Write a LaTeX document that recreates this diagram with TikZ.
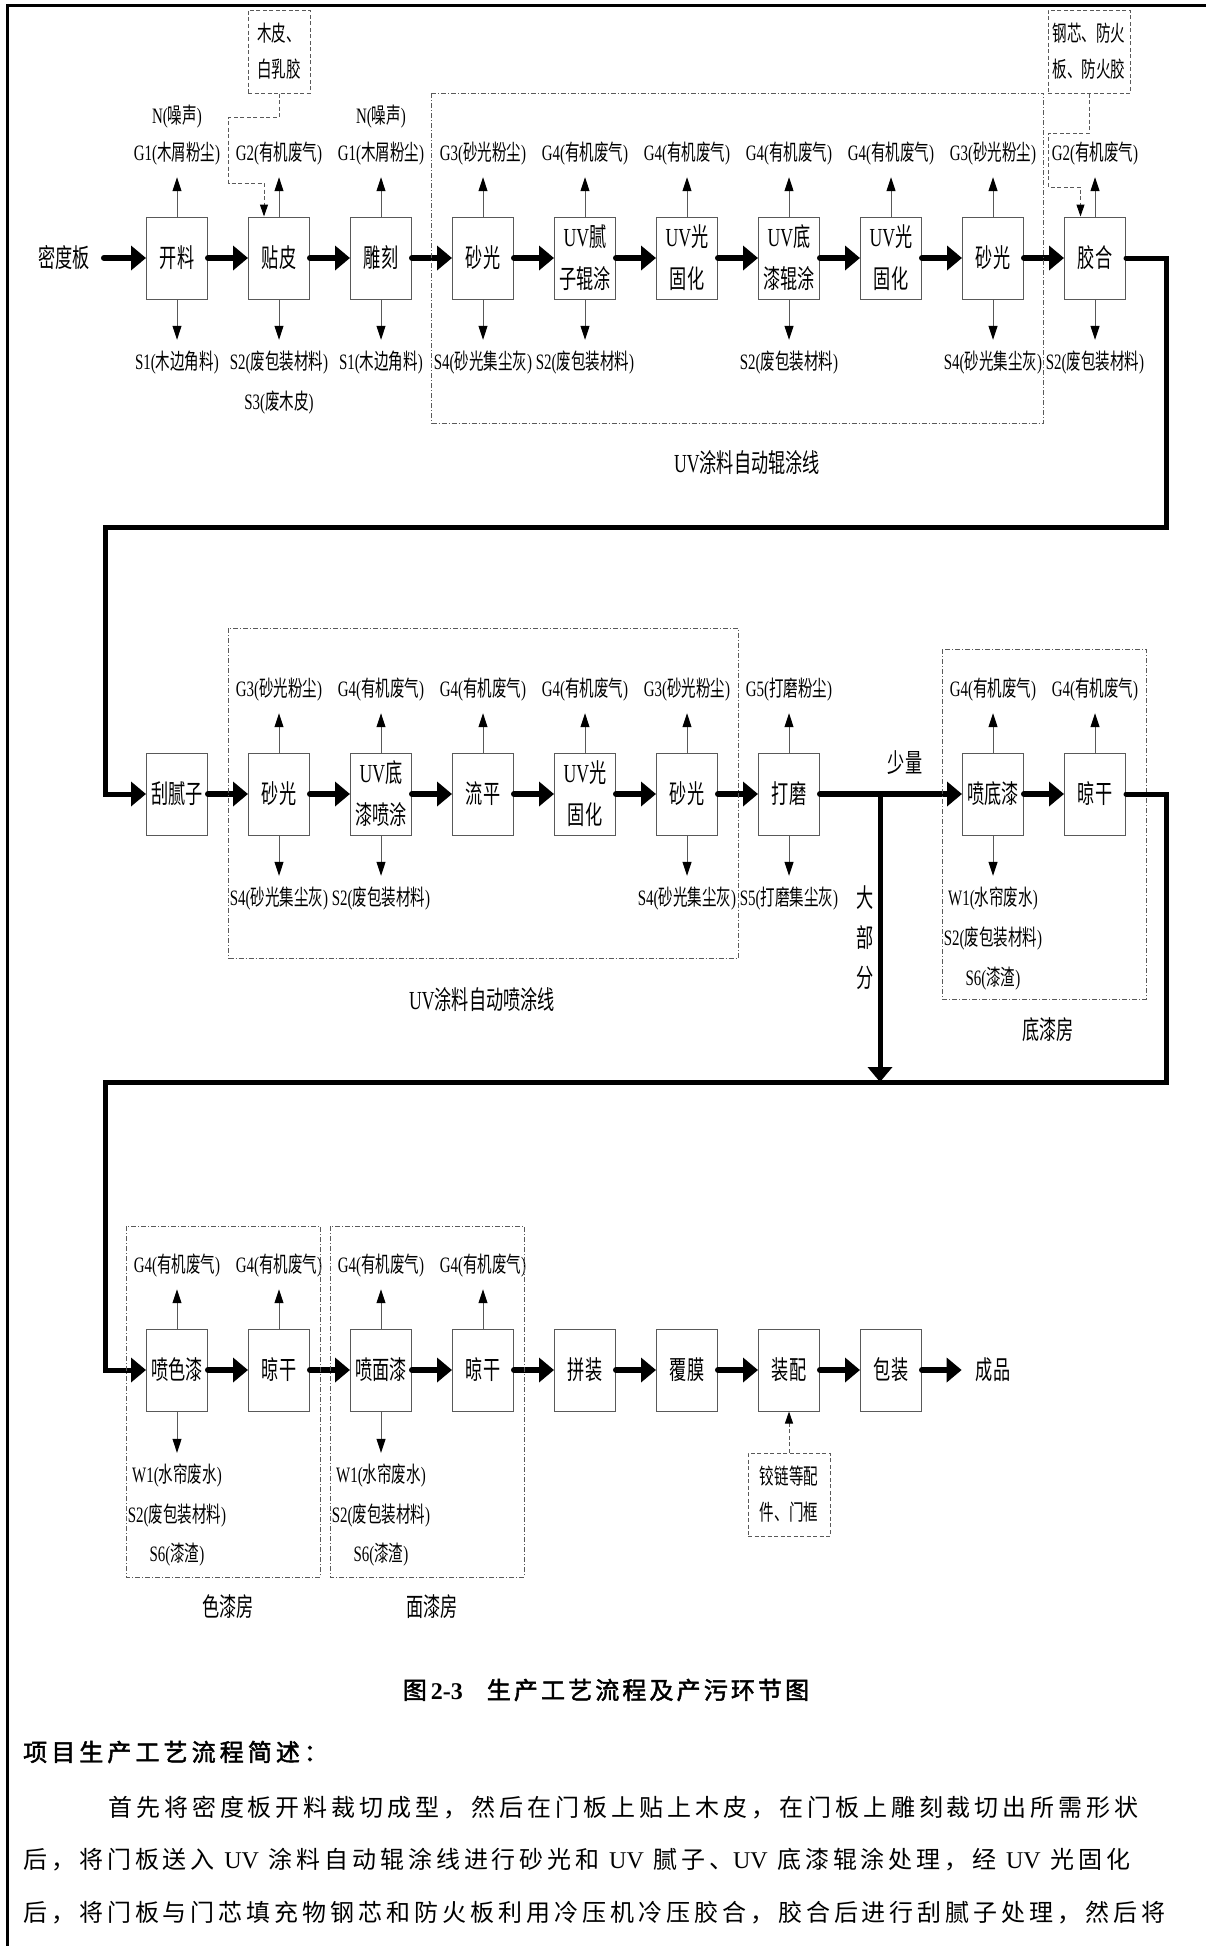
\documentclass[tikz,border=0pt]{standalone}
\usepackage{fontspec}
\usepackage{tikz}
\usetikzlibrary{arrows.meta,
                calc,
                positioning}

\newfontfamily\cjk[FakeStretch=0.66]{Noto Sans CJK SC}
\newfontfamily\lat[FakeStretch=0.68]{Liberation Serif}
\newfontfamily\bodyf[LetterSpace=16.5]{Noto Sans CJK SC}
\newfontfamily\capbf[LetterSpace=13,FakeBold=2]{Noto Sans CJK SC}
\newfontfamily\headbf[LetterSpace=17,FakeBold=2]{Noto Sans CJK SC}
\newfontfamily\bodylat{Liberation Serif}

\newcommand\pol[2]{{\lat #1(}#2{\lat )}}
\newcommand\uv{{\lat UV}}

\tikzset{
  proc/.style={draw=gray!70!black, line width=1pt, minimum width=61pt,
               minimum height=82pt, inner sep=0pt, align=center,
               font=\cjk\fontsize{26}{42}\selectfont},
  emis/.style={font=\cjk\fontsize{22}{26}\selectfont, text height=16.5pt,
               text depth=4.5pt, inner xsep=1pt, inner ysep=12.5pt},
  note/.style={font=\cjk\fontsize{26}{40}\selectfont, align=center, inner sep=2pt},
  stuff/.style={draw=gray!70!black, line width=1pt, dash pattern=on 4pt off 2.5pt,
                minimum width=62pt, minimum height=83pt, inner sep=0pt, align=center,
                font=\cjk\fontsize{22}{36}\selectfont},
  flow/.style={line width=6pt, line cap=round, -{Triangle[length=15pt,width=24pt]}},
  gas/.style={draw=gray!70!black, line width=1pt, -{Triangle[length=14pt,width=9pt,color=black]}},
  feed/.style={draw=gray!70!black, line width=1pt, dash pattern=on 4pt off 2.5pt,
               -{Triangle[length=12pt,width=8pt,color=black]}},
  zone/.style={draw=gray!70!black, line width=1pt, dash pattern=on 5pt off 2pt on 1pt off 2pt},
  body/.style={anchor=west, inner sep=0pt, font=\bodyf\fontsize{24}{28}\selectfont}
}

\begin{document}
\begin{tikzpicture}[x=1pt,y=-1pt]
\useasboundingbox (0,0) rectangle (1206,1946);
\fill[white] (0,0) rectangle (1206,1946);
\draw[line width=3pt] (7,1946) -- (7,5) -- (1206,5);

% row 1
\node[note,inner xsep=14pt] (mdf) at (64,258) {密度板};
\foreach \i/\x/\txt in {1/177/开料, 2/279/贴皮, 3/381/雕刻, 4/483/砂光,
    5/585/{\uv 腻\\子辊涂}, 6/687/{\uv 光\\固化}, 7/789/{\uv 底\\漆辊涂},
    8/891/{\uv 光\\固化}, 9/993/砂光, 10/1095/胶合}
  \node[proc] (a\i) at (\x,258) {\txt};
\draw[flow] (mdf) -- (a1);
\foreach \i [evaluate=\i as \j using int(\i+1)] in {1,...,9}
  \draw[flow] (a\i) -- (a\j);

\foreach \i/\g/\txt in {1/G1/木屑粉尘, 2/G2/有机废气, 3/G1/木屑粉尘, 4/G3/砂光粉尘,
    5/G4/有机废气, 6/G4/有机废气, 7/G4/有机废气, 8/G4/有机废气, 9/G3/砂光粉尘, 10/G2/有机废气}
{
  \node[emis] (ga\i) at ($(a\i)+(0,-104)$) {\pol{\g}{\txt}};
  \draw[gas] (a\i) -- (ga\i);
}
\foreach \i/\s/\txt in {1/S1/木边角料, 2/S2/废包装材料, 3/S1/木边角料, 4/S4/砂光集尘灰,
    5/S2/废包装材料, 7/S2/废包装材料, 9/S4/砂光集尘灰, 10/S2/废包装材料}
{
  \node[emis] (sa\i) at ($(a\i)+(0,105)$) {\pol{\s}{\txt}};
  \draw[gas] (a\i) -- (sa\i);
}
\node[emis] (na1) at ($(a1)+(0,-141)$) {\pol{N}{噪声}};
\node[emis] (na3) at ($(a3)+(0,-141)$) {\pol{N}{噪声}};
\node[emis] (sb2) at ($(a2)+(0,145)$) {\pol{S3}{废木皮}};

\node[stuff] (veneer) at (279,51.5) {木皮、\\白乳胶};
\coordinate (v1) at (228.5,117);
\coordinate (v2) at (264,183);
\draw[feed] (veneer) |- (v1) |- (v2) -- (a2.north -| v2);

\node[stuff,minimum width=82pt] (core) at (1089,51.5) {钢芯、防火\\板、防火胶};
\coordinate (k1) at (1048.4,133);
\coordinate (k2) at (1080.5,187);
\draw[feed] (core) |- (k1) |- (k2) -- (a10.north -| k2);

\draw[zone] (431.7,93) rectangle (1043.8,423);
\node[note] (rollline) at (747,463) {\uv 涂料自动辊涂线};

% row 2
\coordinate (t1) at (1166,527);
\coordinate (t2) at (105,527);
\foreach \i/\x/\txt in {1/177/刮腻子, 2/279/砂光, 3/381/{\uv 底\\漆喷涂}, 4/483/流平,
    5/585/{\uv 光\\固化}, 6/687/砂光, 7/789/打磨, 8/993/喷底漆, 9/1095/晾干}
  \node[proc] (b\i) at (\x,794) {\txt};
\draw[flow,line width=5pt] (a10) -| (t1) -- (t2) |- (b1);
\foreach \i [evaluate=\i as \j using int(\i+1)] in {1,...,8}
  \draw[flow] (b\i) -- (b\j);

\foreach \i/\g/\txt in {2/G3/砂光粉尘, 3/G4/有机废气, 4/G4/有机废气, 5/G4/有机废气,
    6/G3/砂光粉尘, 7/G5/打磨粉尘, 8/G4/有机废气, 9/G4/有机废气}
{
  \node[emis] (gb\i) at ($(b\i)+(0,-104)$) {\pol{\g}{\txt}};
  \draw[gas] (b\i) -- (gb\i);
}
\foreach \i/\s/\txt in {2/S4/砂光集尘灰, 3/S2/废包装材料, 6/S4/砂光集尘灰,
    7/S5/打磨集尘灰, 8/W1/水帘废水}
{
  \node[emis] (sb\i) at ($(b\i)+(0,105)$) {\pol{\s}{\txt}};
  \draw[gas] (b\i) -- (sb\i);
}
\node[emis] (sb8b) at ($(b8)+(0,145)$) {\pol{S2}{废包装材料}};
\node[emis] (sb8c) at ($(b8)+(0,185)$) {\pol{S6}{漆渣}};

\coordinate (fork) at (880,794);
\coordinate (join) at (880,1082);
\node[note] (few) at (905,763) {少量};
\node[note] (most) at (865,938) {大\\部\\分};

\draw[zone] (228.5,628) rectangle (738,958);
\node[note] (sprayline) at (482,1000) {\uv 涂料自动喷涂线};
\draw[zone] (942,649) rectangle (1146,999);
\node[note] (primeroom) at (1048,1030) {底漆房};

% row 3
\coordinate (t3) at (1166,1082);
\coordinate (t4) at (105,1082);
\foreach \i/\x/\txt in {1/177/喷色漆, 2/279/晾干, 3/381/喷面漆, 4/483/晾干,
    5/585/拼装, 6/687/覆膜, 7/789/装配, 8/891/包装}
  \node[proc] (c\i) at (\x,1370) {\txt};
\draw[flow,line width=5pt] (b9) -| (t3) -- (t4) |- (c1);
\draw[flow,line width=5pt] (fork) -- (join);
\foreach \i [evaluate=\i as \j using int(\i+1)] in {1,...,7}
  \draw[flow] (c\i) -- (c\j);
\node[note,inner xsep=14pt] (prod) at (993,1370) {成品};
\draw[flow] (c8) -- (prod);

\foreach \i in {1,...,4}
{
  \node[emis] (gc\i) at ($(c\i)+(0,-104)$) {\pol{G4}{有机废气}};
  \draw[gas] (c\i) -- (gc\i);
}
\foreach \i in {1,3}
{
  \node[emis] (sc\i) at ($(c\i)+(0,106)$) {\pol{W1}{水帘废水}};
  \node[emis] (sc\i b) at ($(c\i)+(0,146)$) {\pol{S2}{废包装材料}};
  \node[emis] (sc\i c) at ($(c\i)+(0,185)$) {\pol{S6}{漆渣}};
  \draw[gas] (c\i) -- (sc\i);
}

\node[stuff,minimum width=82pt] (parts) at (789,1494.5) {铰链等配\\件、门框};
\draw[feed] (parts) -- (c7);

\draw[zone] (126,1226) rectangle (320,1577);
\node[note] (colorroom) at (228,1607) {色漆房};
\draw[zone] (330,1226) rectangle (524,1577);
\node[note] (toproom) at (432,1607) {面漆房};

% caption and text
\node[font=\capbf\fontsize{24}{28}\selectfont] (cap) at (606,1690)
  {图\,{\bodylat\bfseries 2-3}\quad 生产工艺流程及产污环节图};
\node[body,font=\headbf\fontsize{24}{28}\selectfont] (head) at (23,1752) {项目生产工艺流程简述：};
\node[body] (line1) at (108,1808) {首先将密度板开料裁切成型，然后在门板上贴上木皮，在门板上雕刻裁切出所需形状};
\node[body] (line2) at (23,1860) {后，将门板送入 {\bodylat UV} 涂料自动辊涂线进行砂光和 {\bodylat UV} 腻子、{\bodylat UV} 底漆辊涂处理，经 {\bodylat UV} 光固化};
\node[body] (line3) at (23,1913) {后，将门板与门芯填充物钢芯和防火板利用冷压机冷压胶合，胶合后进行刮腻子处理，然后将};
\end{tikzpicture}
\end{document}
